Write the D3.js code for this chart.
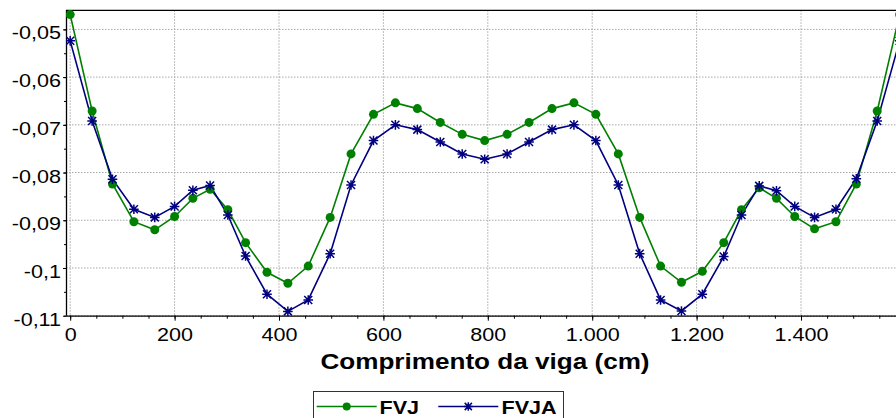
<!DOCTYPE html>
<html><head><meta charset="utf-8">
<script src="https://cdn.jsdelivr.net/npm/d3@7"></script>
<style>html,body{margin:0;padding:0;background:#fff}svg{display:block}</style>
</head><body>
<svg id="c" width="896" height="418"></svg>
<script>
const xPos = [0, 42, 81, 122, 162, 200, 235, 268, 302, 336, 377, 417, 456, 498, 538, 581, 623, 665, 709, 751, 794,
  837, 879, 923, 965, 1007, 1050, 1091, 1131, 1171, 1211, 1252, 1286, 1320, 1353, 1388, 1426, 1467, 1506, 1546, 1589];
const fvj = [-0.0469, -0.0671, -0.0824, -0.0903, -0.0920, -0.0892, -0.0854, -0.0835, -0.0878, -0.0947, -0.1009, -0.1032, -0.0996, -0.0894, -0.0761, -0.0678, -0.0654, -0.0666, -0.0695, -0.0720, -0.0733,
  -0.0720, -0.0695, -0.0666, -0.0654, -0.0678, -0.0761, -0.0894, -0.0996, -0.1030, -0.1007, -0.0947, -0.0878, -0.0832, -0.0854, -0.0892, -0.0918, -0.0903, -0.0824, -0.0671, -0.0469];
const fvja = [-0.0524, -0.0692, -0.0814, -0.0877, -0.0894, -0.0871, -0.0837, -0.0827, -0.0889, -0.0975, -0.1055, -0.1091, -0.1067, -0.0970, -0.0826, -0.0733, -0.0700, -0.0710, -0.0736, -0.0761, -0.0772,
  -0.0761, -0.0736, -0.0710, -0.0700, -0.0733, -0.0826, -0.0970, -0.1067, -0.1090, -0.1055, -0.0976, -0.0889, -0.0828, -0.0838, -0.0871, -0.0894, -0.0877, -0.0813, -0.0692, -0.0524];
const seriesNames = ["FVJ", "FVJA"];
const seriesColors = ["#008000", "#000080"];
const yTicks = [-0.05, -0.06, -0.07, -0.08, -0.09, -0.1, -0.11];
const xTicks = [0, 200, 400, 600, 800, 1000, 1200, 1400];
const xTitle = "Comprimento da viga (cm)";

const svg = d3.select("#c");
const FONT = "'Liberation Sans', Arial, sans-serif";
const SX = 1.16;
const L = 66, T = 10.3, B = 315.7, R = 905;
const x = d3.scaleLinear().domain([0, 1400]).range([70.2, 801]);
const y = d3.scaleLinear().domain([-0.11, -0.046]).range([B, T]);
const loc = d3.formatLocale({decimal: ",", thousands: ".", grouping: [3], currency: ["", ""], minus: "-"});
const yf = loc.format("~g"), xf = loc.format(",d");

svg.append("rect").attr("width", 896).attr("height", 418).attr("fill", "#fff");

// grid
const grid = svg.append("g").attr("stroke", "#a8a8a8").attr("stroke-width", 1).attr("stroke-dasharray", "1.5,1.5");
yTicks.forEach(v => grid.append("line").attr("x1", L).attr("x2", R).attr("y1", y(v)).attr("y2", y(v)));
xTicks.forEach(v => grid.append("line").attr("x1", x(v)).attr("x2", x(v)).attr("y1", T).attr("y2", B));

// top border
svg.append("line").attr("x1", L).attr("x2", R).attr("y1", T).attr("y2", T).attr("stroke", "#000").attr("stroke-width", 1.3);

// axes
const xMinor = d3.range(0, 1600, 50);
const gxm = svg.append("g").attr("transform", `translate(0,${B})`)
  .call(d3.axisBottom(x).tickValues(xMinor).tickSize(3).tickFormat(""));
gxm.select(".domain").remove();
const gx = svg.append("g").attr("transform", `translate(0,${B})`)
  .call(d3.axisBottom(x).tickValues(xTicks).tickSize(5).tickSizeOuter(0).tickFormat(xf));
gx.select(".domain").attr("d", `M${L},0.5H${R}`).attr("stroke", "#000").attr("stroke-width", 1.3);
gx.selectAll("text").attr("font-family", FONT).attr("font-size", 18.6).attr("fill", "#000")
  .attr("y", 25).attr("dy", 0).attr("transform", `scale(${SX},1)`);

const yMinor = d3.range(-0.11, -0.0459, 0.005);
const gym = svg.append("g").attr("transform", `translate(${L},0)`)
  .call(d3.axisLeft(y).tickValues(yMinor).tickSize(2).tickFormat(""));
gym.select(".domain").remove();
const gy = svg.append("g").attr("transform", `translate(${L},0)`)
  .call(d3.axisLeft(y).tickValues(yTicks).tickSize(3).tickSizeOuter(0).tickFormat(yf));
gy.select(".domain").attr("d", `M0.5,${T}V${B}`).attr("stroke", "#000").attr("stroke-width", 1.3);
gy.selectAll("text").attr("font-family", FONT).attr("font-size", 18.6).attr("fill", "#000")
  .attr("x", -5 / SX).attr("y", 9.6).attr("dy", 0).attr("transform", `scale(${SX},1)`);

// clip
svg.append("clipPath").attr("id", "clip").append("rect").attr("x", L).attr("y", 0).attr("width", R - L + 10).attr("height", B + 6);
const plot = svg.append("g").attr("clip-path", "url(#clip)");

const data = [fvj, fvja];
const line = d3.line().x((d, i) => x(xPos[i])).y(d => y(d));
function star(cx, cy, s) {
  return `M${cx - s},${cy - s}L${cx + s},${cy + s}M${cx - s},${cy + s}L${cx + s},${cy - s}M${cx},${cy - s * 1.2}L${cx},${cy + s * 1.2}M${cx - s * 1.2},${cy}L${cx + s * 1.2},${cy}`;
}
data.forEach((vals, k) => {
  plot.append("path").datum(vals).attr("d", line).attr("fill", "none")
    .attr("stroke", seriesColors[k]).attr("stroke-width", 1.6);
});
plot.selectAll("circle.m").data(fvj).join("circle")
  .attr("cx", (d, i) => x(xPos[i])).attr("cy", d => y(d)).attr("r", 4.5).attr("fill", seriesColors[0]);
plot.selectAll("path.s").data(fvja).join("path").attr("class", "s")
  .attr("d", (d, i) => star(x(xPos[i]), y(d), 4)).attr("stroke", seriesColors[1]).attr("stroke-width", 1.5).attr("fill", "none");

// x title
svg.append("text").attr("transform", `translate(485,369) scale(${SX},1)`)
  .attr("text-anchor", "middle").attr("font-family", FONT).attr("font-weight", "bold").attr("font-size", 22.5)
  .text(xTitle);

// legend
const lg = svg.append("g");
lg.append("rect").attr("x", 313.5).attr("y", 391.5).attr("width", 250).attr("height", 40)
  .attr("fill", "#fff").attr("stroke", "#333").attr("stroke-width", 1);
const ly = 406.5;
const items = [{x1: 316.7, x2: 376.7, tx: 379.5}, {x1: 438.3, x2: 498.3, tx: 501.5}];
items.forEach((it, k) => {
  lg.append("line").attr("x1", it.x1).attr("x2", it.x2).attr("y1", ly).attr("y2", ly)
    .attr("stroke", seriesColors[k]).attr("stroke-width", 1.6);
  const mx = (it.x1 + it.x2) / 2;
  if (k === 0) lg.append("circle").attr("cx", mx).attr("cy", ly).attr("r", 4).attr("fill", seriesColors[0]);
  else lg.append("path").attr("d", star(mx, ly, 3.6)).attr("stroke", seriesColors[1]).attr("stroke-width", 1.5);
  lg.append("text").attr("transform", `translate(${it.tx},414) scale(${SX},1)`)
    .attr("font-family", FONT).attr("font-weight", "bold").attr("font-size", 18.6).text(seriesNames[k]);
});
</script>
</body></html>
